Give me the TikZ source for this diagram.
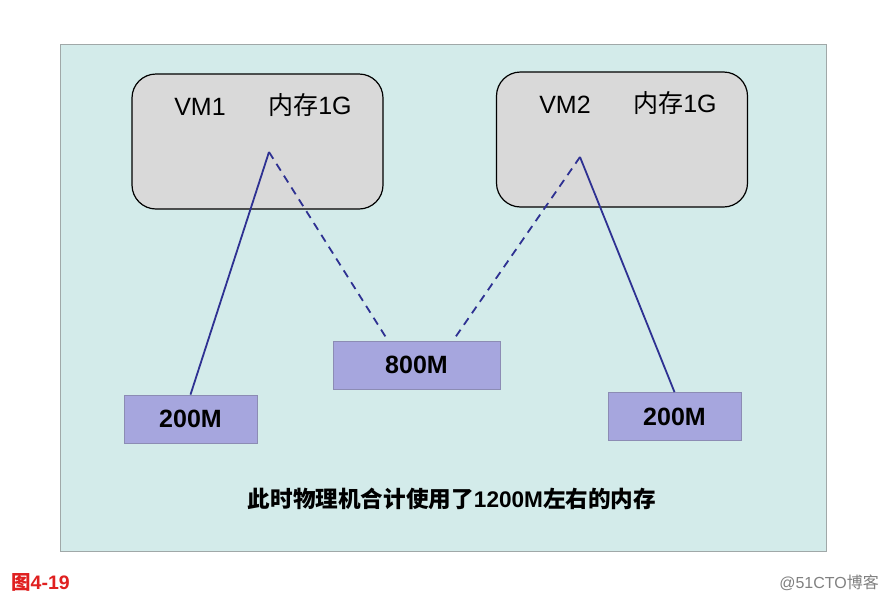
\documentclass[tikz,border=0pt]{standalone}
\usepackage{fontspec}
\setmainfont{Liberation Sans}
\newfontfamily\cjk{Noto Sans CJK SC}
\usetikzlibrary{calc}
\definecolor{panelbg}{HTML}{D3EBEA}
\definecolor{panelbd}{HTML}{A0A8A8}
\definecolor{vmfill}{HTML}{D9D9D9}
\definecolor{memfill}{HTML}{A6A6DE}
\definecolor{membd}{HTML}{8C8CB4}
\definecolor{linkc}{HTML}{2E3192}
\definecolor{capred}{HTML}{E02020}
\tikzset{
  vmbox/.style={draw=black, line width=1.2pt, fill=vmfill, rounded corners=24pt, minimum width=251pt, minimum height=135pt, inner sep=0pt},
  membox/.style={draw=membd, line width=0.8pt, fill=memfill, minimum width=133pt, minimum height=48pt, inner sep=0pt, font=\fontsize{25pt}{28pt}\selectfont\bfseries},
  vmlabel/.style={font=\fontsize{25pt}{28pt}\selectfont, inner sep=0pt},
  solidlink/.style={draw=linkc, line width=1.8pt},
  dashlink/.style={draw=linkc, line width=1.8pt, dash pattern=on 8pt off 6pt}
}
\begin{document}
\begin{tikzpicture}[x=1pt,y=-1pt]
\useasboundingbox (0,0) rectangle (886,600);
\fill[white] (0,0) rectangle (886,600);
\node[draw=panelbd, line width=0.8pt, fill=panelbg, minimum width=766pt, minimum height=507pt, inner sep=0pt] (panel) at (443,297.5) {};
\node[vmbox] (vm1) at (257.5,141.5) {};
\node[vmbox] (vm2) at (622,139.5) {};
\node[vmlabel] (vm1name) at (200,107) {VM1};
\node[vmlabel] (vm1mem) at (310,105) {{\cjk 内存}1G};
\node[vmlabel] (vm2name) at (565,105) {VM2};
\node[vmlabel] (vm2mem) at (675,103) {{\cjk 内存}1G};
\coordinate (a1) at (269,152);
\coordinate (a2) at (580,157);
\node[membox, minimum width=167pt] (m800) at (416.5,365) {800M};
\node[membox] (l200) at (190.5,419) {200M};
\node[membox] (r200) at (674.5,416.5) {200M};
\draw[solidlink] (a1) -- (l200.north);
\draw[dashlink] (a1) -- ($(m800.north)+(-28.5,0)$);
\draw[dashlink] (a2) -- ($(m800.north)+(36.5,0)$);
\draw[solidlink] (a2) -- (r200.north);
\node[font=\fontsize{22.6pt}{26pt}\selectfont\bfseries, inner sep=0pt] (note) at (452,499) {{\cjk\bfseries 此时物理机合计使用了}1200M{\cjk\bfseries 左右的内存}};
\node[anchor=west, text=capred, font=\fontsize{19.5pt}{22pt}\selectfont\bfseries, inner sep=0pt] (cap) at (11,582) {{\cjk\bfseries 图}4-19};
\node[anchor=east, text=gray, font=\fontsize{16pt}{19pt}\selectfont, inner sep=0pt] (wm) at (879,583) {@51CTO{\cjk 博客}};
\end{tikzpicture}
\end{document}
